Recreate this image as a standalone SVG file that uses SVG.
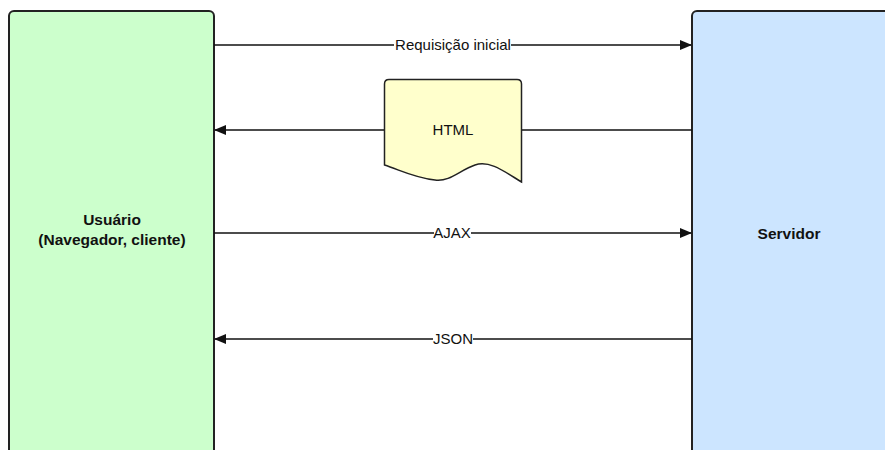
<svg xmlns="http://www.w3.org/2000/svg" width="885" height="450" viewBox="0 0 885 450">
  <style>
    .box { stroke: #222; stroke-width: 2; }
    .title { font-family: "Liberation Sans", Arial, sans-serif; font-size: 15.5px; font-weight: bold; fill: #111; text-anchor: middle; }
    .label { font-family: "Liberation Sans", Arial, sans-serif; font-size: 15px; fill: #111; text-anchor: middle; }
    .wire { stroke: #111; stroke-width: 1.3; fill: none; }
    .bg { fill: #fff; }
  </style>
  <defs>
    <marker id="arrow" viewBox="0 0 12 10" refX="11" refY="5" markerWidth="12" markerHeight="10" markerUnits="userSpaceOnUse" orient="auto">
      <path d="M0,0 L12,5 L0,10 z" fill="#111"/>
    </marker>
  </defs>

  <rect width="885" height="450" fill="#fff"/>

  <g id="client">
    <rect class="box" x="9" y="11" width="205" height="460" rx="5" fill="#ccffcc"/>
    <text class="title" x="112" y="225">Usuário</text>
    <text class="title" x="112" y="245">(Navegador, cliente)</text>
  </g>

  <g id="server">
    <rect class="box" x="692" y="11" width="210" height="460" rx="5" fill="#cce5ff"/>
    <text class="title" x="789" y="239">Servidor</text>
  </g>

  <g id="connectors">
    <line class="wire" x1="214" y1="45" x2="691" y2="45" marker-end="url(#arrow)"/>
    <rect class="bg" x="394" y="36" width="117" height="16"/>
    <text class="label" x="453" y="50">Requisição inicial</text>

    <line class="wire" x1="384" y1="130" x2="215" y2="130" marker-end="url(#arrow)"/>
    <line class="wire" x1="522" y1="130" x2="692" y2="130"/>

    <line class="wire" x1="214" y1="233" x2="691" y2="233" marker-end="url(#arrow)"/>
    <rect class="bg" x="434" y="225" width="37" height="16"/>
    <text class="label" x="452" y="238">AJAX</text>

    <line class="wire" x1="692" y1="339" x2="215" y2="339" marker-end="url(#arrow)"/>
    <rect class="bg" x="433" y="331" width="40" height="16"/>
    <text class="label" x="453" y="344">JSON</text>
  </g>

  <g id="html-doc">
    <path d="M384.5,84 Q384.5,79.5 389,79.5 L517,79.5 Q521.5,79.5 521.5,84 L521.5,182 C505,172 490,160 475,165 C460,170 450,182 435,180 C415,178 400,170 384.5,165 Z" fill="#ffffcc" stroke="#222" stroke-width="1.5"/>
    <text class="label" x="453" y="135">HTML</text>
  </g>
</svg>
